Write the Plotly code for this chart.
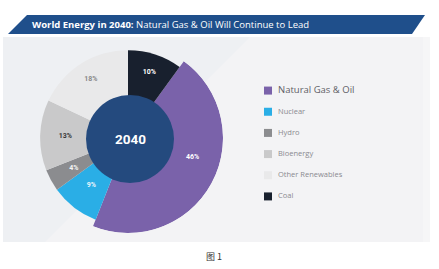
import plotly.graph_objects as go

W, H = 439, 269

# ---------------- data ----------------
categories = ["Natural Gas & Oil", "Nuclear", "Hydro", "Bioenergy", "Other Renewables", "Coal"]
shares = [46, 9, 4, 13, 18, 10]          # percent, 2040
center_label = "2040"
title_bold = "World Energy in 2040:"
title_rest = " Natural Gas & Oil Will Continue to Lead"
caption = "图 1"

# ---------------- styles ----------------
colors = ["#7a62aa", "#2aaee6", "#8b8c8f", "#c9c9ca", "#e9e9ea", "#18202e"]
label_colors = ["#ffffff", "#eaf6fc", "#f4f4f4", "#3a3a3a", "#8a8a8a", "#ffffff"]
legend_text_colors = ["#5f5f66", "#8a8a90", "#8a8a90", "#8a8a90", "#8a8a90", "#8a8a90"]
legend_text_sizes = [9.5, 7.5, 7.5, 7.5, 7.5, 7.5]
outer_r = [1.0, 0.925, 0.925, 0.925, 0.925, 0.925]
label_r = [0.71, 0.63, 0.65, 0.66, 0.73, 0.73]
label_dtheta = [-12, 0, 0, 0, 0, 0]


def px(x):
    return x / W


def py(y):
    return 1 - y / H


# angles clockwise from 12 o'clock; the last category (Coal) sits at 0..its share,
# the remaining categories follow clockwise after it
acc = shares[-1] * 3.6
widths, mids = [], []
for s in shares:
    w = s * 3.6
    widths.append(w)
    mids.append((acc + w / 2) % 360)
    acc += w

fig = go.Figure()

fig.add_trace(go.Barpolar(
    theta=mids, r=outer_r, width=widths,
    marker=dict(color=colors, line=dict(width=0)),
    hoverinfo="skip", showlegend=False,
))

fig.add_trace(go.Scatterpolar(
    theta=[m + d for m, d in zip(mids, label_dtheta)], r=label_r,
    mode="text", text=[f"{s}%" for s in shares],
    textfont=dict(family="Roboto", size=7, color=label_colors, weight="bold"),
    hoverinfo="skip", showlegend=False,
))

# custom legend: squares + labels
fig.add_trace(go.Scatter(
    x=[13] * len(categories), y=[-i for i in range(len(categories))],
    mode="markers",
    marker=dict(symbol="square", size=8, color=colors, line=dict(width=0)),
    hoverinfo="skip", showlegend=False, xaxis="x", yaxis="y",
))
fig.add_trace(go.Scatter(
    x=[23] * len(categories), y=[-i for i in range(len(categories))],
    mode="text", text=categories, textposition="middle right",
    textfont=dict(family="Open Sans", size=legend_text_sizes, color=legend_text_colors),
    hoverinfo="skip", showlegend=False, xaxis="x", yaxis="y",
))

shapes = []
shapes.append(dict(type="rect", xref="paper", yref="paper", x0=px(3), x1=px(430), y0=py(242), y1=py(37),
                   fillcolor="#f6f6f7", line=dict(width=0), layer="below"))
shapes.append(dict(type="rect", xref="paper", yref="paper", x0=px(3), x1=px(423), y0=py(242), y1=py(37),
                   fillcolor="#f3f3f5", line=dict(width=0), layer="below"))
shapes.append(dict(type="path", xref="paper", yref="paper",
                   path=f"M {px(3)},{py(37)} L {px(250)},{py(37)} L {px(45)},{py(242)} L {px(3)},{py(242)} Z",
                   fillcolor="#eef0f3", line=dict(width=0), layer="below"))
# title banner (parallelogram)
shapes.append(dict(type="path", xref="paper", yref="paper",
                   path=f"M {px(27)},{py(15)} L {px(425)},{py(15)} L {px(412)},{py(34)} L {px(8)},{py(34)} Z",
                   fillcolor="#1f4f8b", line=dict(width=0), layer="below"))
# center disc
cx, cy, cr = 130, 139, 44
shapes.append(dict(type="circle", xref="paper", yref="paper",
                   x0=px(cx - cr), x1=px(cx + cr), y0=py(cy + cr), y1=py(cy - cr),
                   fillcolor="#244a7e", line=dict(width=0), layer="above"))

annotations = [
    dict(x=px(30), y=py(25), xref="paper", yref="paper", xanchor="left", yanchor="middle",
         text=f"<b>{title_bold}</b>{title_rest}", showarrow=False,
         font=dict(family="Open Sans", size=9.5, color="#ffffff")),
    dict(x=px(cx), y=py(cy), xref="paper", yref="paper", xanchor="center", yanchor="middle",
         text=f"<b>{center_label}</b>", showarrow=False,
         font=dict(family="Roboto", size=13.5, color="#ffffff")),
    dict(x=px(214), y=py(256), xref="paper", yref="paper", xanchor="center", yanchor="middle",
         text=caption, showarrow=False,
         font=dict(family="Noto Sans CJK SC", size=9, color="#333333")),
]

R, pcx, pcy = 95, 128, 138
fig.update_layout(
    width=W, height=H, margin=dict(l=0, r=0, t=0, b=0),
    paper_bgcolor="#ffffff", plot_bgcolor="rgba(0,0,0,0)",
    polar=dict(
        domain=dict(x=[px(pcx - R), px(pcx + R)], y=[py(pcy + R), py(pcy - R)]),
        bgcolor="rgba(0,0,0,0)",
        radialaxis=dict(range=[0, 1], visible=False, showgrid=False),
        angularaxis=dict(rotation=90, direction="clockwise", visible=False, showgrid=False),
        bargap=0,
    ),
    xaxis=dict(domain=[px(255), px(430)], range=[0, 175], visible=False, fixedrange=True),
    yaxis=dict(domain=[py(207), py(80)], range=[-5.5, 0.5], visible=False, fixedrange=True),
    shapes=shapes, annotations=annotations,
)

fig.write_html("out.html")
